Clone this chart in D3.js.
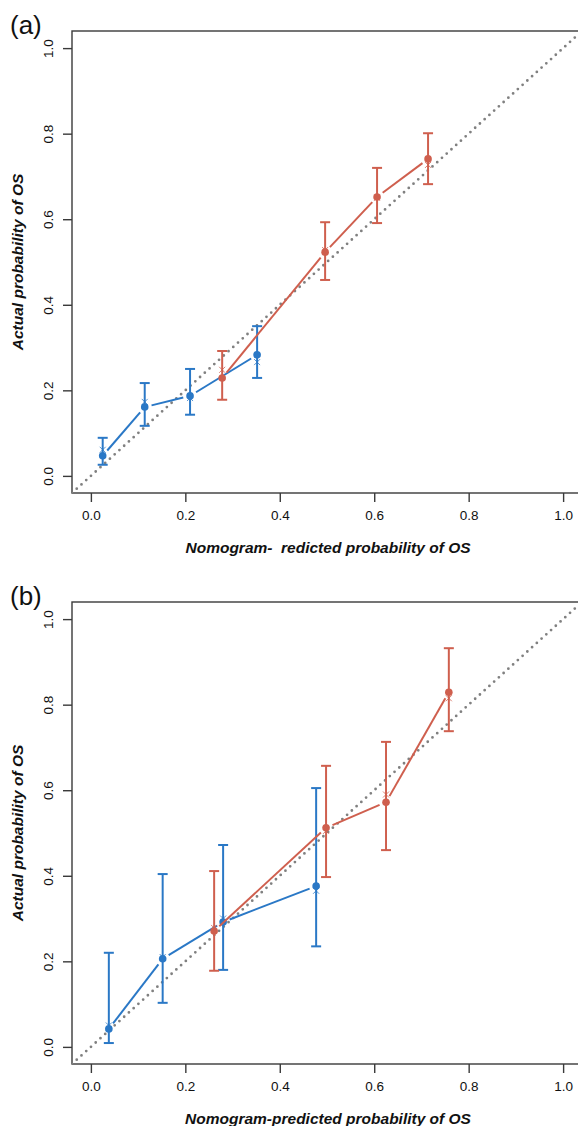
<!DOCTYPE html>
<html>
<head>
<meta charset="utf-8">
<script src="https://cdn.jsdelivr.net/npm/d3@7"></script>
<style>
  html, body { margin: 0; padding: 0; background: #fff; }
  svg { display: block; font-family: "Liberation Sans", Arial, sans-serif; }
  .pre { white-space: pre; }
</style>
</head>
<body>
<svg id="chart" width="578" height="1126"></svg>
<script>
// ---- data ----
const tickValues = [0, 0.2, 0.4, 0.6, 0.8, 1.0];
const tickLabels = ["0.0", "0.2", "0.4", "0.6", "0.8", "1.0"];

// Panel (a)
const aBluePred = [0.025, 0.114, 0.210, 0.352];
const aBlueObs  = [0.047, 0.161, 0.187, 0.283];
const aBlueLo   = [0.026, 0.117, 0.143, 0.229];
const aBlueHi   = [0.089, 0.217, 0.250, 0.350];
const aBlueBc   = [0.061, 0.173, 0.182, 0.266];

const aRedPred = [0.278, 0.496, 0.606, 0.714];
const aRedObs  = [0.229, 0.523, 0.652, 0.741];
const aRedLo   = [0.178, 0.458, 0.591, 0.682];
const aRedHi   = [0.292, 0.593, 0.720, 0.801];
const aRedBc   = [0.248, 0.528, 0.650, 0.727];

// Panel (b)
const bBluePred = [0.038, 0.152, 0.280, 0.477];
const bBlueObs  = [0.042, 0.206, 0.292, 0.376];
const bBlueLo   = [0.009, 0.103, 0.180, 0.235];
const bBlueHi   = [0.220, 0.404, 0.472, 0.605];
const bBlueBc   = [0.050, 0.210, 0.300, 0.365];

const bRedPred = [0.261, 0.498, 0.625, 0.758];
const bRedObs  = [0.271, 0.512, 0.572, 0.829];
const bRedLo   = [0.178, 0.397, 0.460, 0.738];
const bRedHi   = [0.411, 0.657, 0.713, 0.932];
const bRedBc   = [0.278, 0.505, 0.590, 0.815];

const panelLabels = ["(a)", "(b)"];
const xTitles = ["Nomogram-  redicted probability of OS", "Nomogram-predicted probability of OS"];
const yTitle = "Actual probability of OS";

const BLUE = "#2a78c6";
const RED = "#cf5f4e";

const svg = d3.select("#chart");

function drawPanel(idx, top, series) {
  const left = 72, right = 582, bottom = top + 462;
  const x = d3.scaleLinear().domain([-0.04, 1.04]).range([left, right]);
  const y = d3.scaleLinear().domain([-0.04, 1.04]).range([bottom, top]);
  const g = svg.append("g");

  const clipId = "clip" + idx;
  g.append("clipPath").attr("id", clipId)
    .append("rect").attr("x", left).attr("y", top).attr("width", right - left).attr("height", bottom - top);

  // frame
  g.append("rect").attr("x", left).attr("y", top).attr("width", right - left).attr("height", bottom - top)
    .attr("fill", "none").attr("stroke", "#3a3a3a").attr("stroke-width", 1.4);

  // axes
  const xAxis = d3.axisBottom(x).tickValues(tickValues).tickFormat((d, i) => tickLabels[i]).tickSize(9).tickSizeOuter(0);
  const gx = g.append("g").attr("transform", `translate(0,${bottom})`).call(xAxis);
  gx.select(".domain").remove();
  gx.selectAll(".tick line").attr("stroke", "#3a3a3a").attr("stroke-width", 1.4);
  gx.selectAll(".tick text").attr("font-size", 13.5).attr("fill", "#111").attr("y", 17).attr("dy", "0.71em")
    .attr("font-family", "Liberation Sans, Arial, sans-serif");

  const yAxis = d3.axisLeft(y).tickValues(tickValues).tickFormat((d, i) => tickLabels[i]).tickSize(9).tickSizeOuter(0);
  const gy = g.append("g").attr("transform", `translate(${left},0)`).call(yAxis);
  gy.select(".domain").remove();
  gy.selectAll(".tick line").attr("stroke", "#3a3a3a").attr("stroke-width", 1.4);
  gy.selectAll(".tick text").attr("font-size", 13.5).attr("fill", "#111")
    .attr("font-family", "Liberation Sans, Arial, sans-serif")
    .attr("x", null).attr("dy", null)
    .attr("text-anchor", "middle")
    .attr("transform", "translate(-24,0) rotate(-90)")
    .attr("y", 0).attr("dominant-baseline", "central");

  // titles
  g.append("text").attr("class", "pre").attr("xml:space", "preserve")
    .attr("x", (left + right) / 2 + 1).attr("y", bottom + 60)
    .attr("text-anchor", "middle").attr("font-size", 15.5).attr("font-weight", "bold").attr("font-style", "italic")
    .attr("fill", "#111").text(xTitles[idx]);
  g.append("text").attr("transform", `translate(23,${(top + bottom) / 2}) rotate(-90)`)
    .attr("text-anchor", "middle").attr("font-size", 15.5).attr("font-weight", "bold").attr("font-style", "italic")
    .attr("fill", "#111").text(yTitle);
  g.append("text").attr("x", 10).attr("y", top + 3).attr("font-size", 26).attr("fill", "#111").text(panelLabels[idx]);

  const plot = g.append("g").attr("clip-path", `url(#${clipId})`);

  // ideal diagonal (dotted)
  plot.append("line")
    .attr("x1", x(-0.04)).attr("y1", y(-0.04)).attr("x2", x(1.04)).attr("y2", y(1.04))
    .attr("stroke", "#808080").attr("stroke-width", 2.8).attr("stroke-linecap", "round")
    .attr("stroke-dasharray", "0 6.4");

  series.forEach(s => {
    const pts = s.pred.map((p, i) => ({ px: x(p), py: y(s.obs[i]), lo: y(s.lo[i]), hi: y(s.hi[i]), bc: y(s.bc[i]) }));
    // connecting lines with gaps (type "b")
    const gap = 7;
    for (let i = 0; i < pts.length - 1; i++) {
      const a = pts[i], b = pts[i + 1];
      const dx = b.px - a.px, dy = b.py - a.py, len = Math.hypot(dx, dy);
      if (len <= 2 * gap) continue;
      const ux = dx / len, uy = dy / len;
      plot.append("line")
        .attr("x1", a.px + ux * gap).attr("y1", a.py + uy * gap)
        .attr("x2", b.px - ux * gap).attr("y2", b.py - uy * gap)
        .attr("stroke", s.color).attr("stroke-width", 2);
    }
    // error bars
    pts.forEach(p => {
      plot.append("line").attr("x1", p.px).attr("x2", p.px).attr("y1", p.lo).attr("y2", p.hi)
        .attr("stroke", s.color).attr("stroke-width", 2);
      [p.lo, p.hi].forEach(yy => {
        plot.append("line").attr("x1", p.px - 5).attr("x2", p.px + 5).attr("y1", yy).attr("y2", yy)
          .attr("stroke", s.color).attr("stroke-width", 2);
      });
      // bias-corrected x marker
      const r = 3;
      plot.append("path")
        .attr("d", `M${p.px - r},${p.bc - r}L${p.px + r},${p.bc + r}M${p.px - r},${p.bc + r}L${p.px + r},${p.bc - r}`)
        .attr("stroke", s.color).attr("stroke-width", 1).attr("fill", "none").attr("opacity", 0.8);
      // apparent point
      plot.append("circle").attr("cx", p.px).attr("cy", p.py).attr("r", 3.8).attr("fill", s.color);
    });
  });
}

drawPanel(0, 31, [
  { pred: aBluePred, obs: aBlueObs, lo: aBlueLo, hi: aBlueHi, bc: aBlueBc, color: BLUE },
  { pred: aRedPred, obs: aRedObs, lo: aRedLo, hi: aRedHi, bc: aRedBc, color: RED }
]);
drawPanel(1, 602, [
  { pred: bBluePred, obs: bBlueObs, lo: bBlueLo, hi: bBlueHi, bc: bBlueBc, color: BLUE },
  { pred: bRedPred, obs: bRedObs, lo: bRedLo, hi: bRedHi, bc: bRedBc, color: RED }
]);
</script>
</body>
</html>
